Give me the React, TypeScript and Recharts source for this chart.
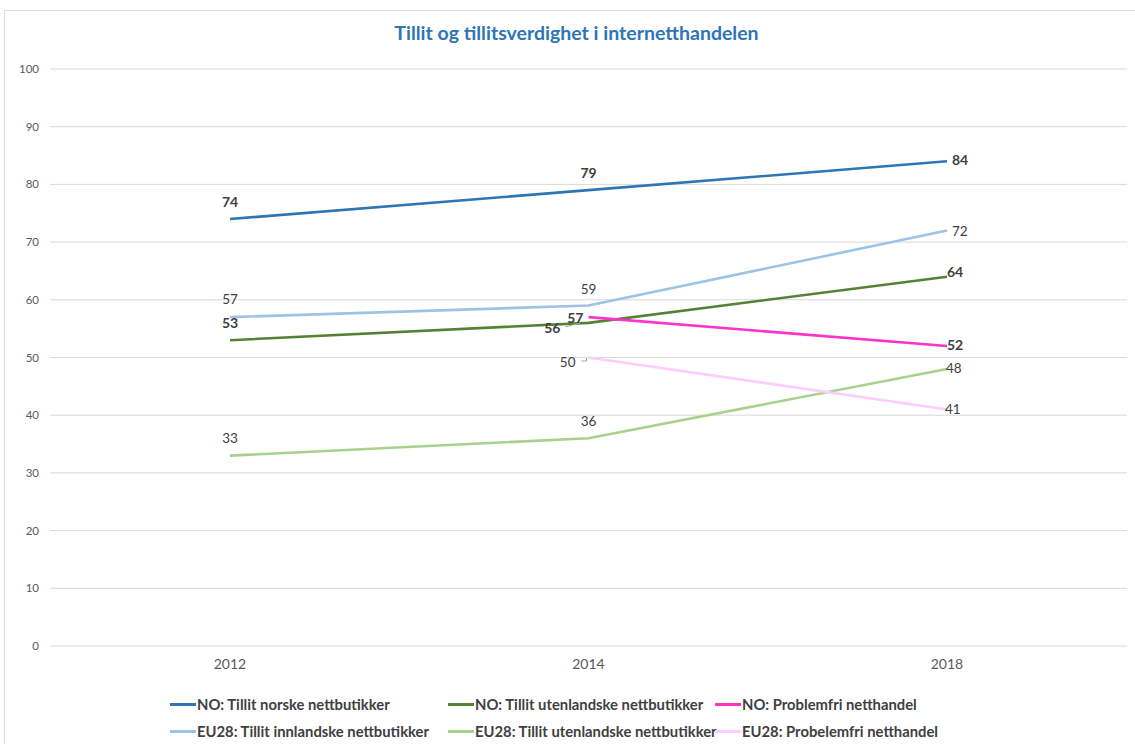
import React from 'react';
import { LineChart, Line, XAxis, YAxis, CartesianGrid, LabelList } from 'recharts';

const years = ['2012', '2014', '2018'];
const noNorske = [74, 79, 84];
const eu28Innlandske = [57, 59, 72];
const noUtenlandske = [53, 56, 64];
const noProblemfri = [null, 57, 52];
const eu28Utenlandske = [33, 36, 48];
const eu28Probelemfri = [null, 50, 41];
const yTicks = [0, 10, 20, 30, 40, 50, 60, 70, 80, 90, 100];

const seriesNames = {
  noNorske: 'NO: Tillit norske nettbutikker',
  noUtenlandske: 'NO: Tillit utenlandske nettbutikker',
  noProblemfri: 'NO: Problemfri netthandel',
  eu28Innlandske: 'EU28: Tillit innlandske nettbutikker',
  eu28Utenlandske: 'EU28: Tillit utenlandske nettbutikker',
  eu28Probelemfri: 'EU28: Probelemfri netthandel',
};

const data = years.map((year, i) => ({
  year,
  noNorske: noNorske[i],
  eu28Innlandske: eu28Innlandske[i],
  noUtenlandske: noUtenlandske[i],
  noProblemfri: noProblemfri[i],
  eu28Utenlandske: eu28Utenlandske[i],
  eu28Probelemfri: eu28Probelemfri[i],
}));

type Cfg = { dx: number; dy: number; anchor: 'start' | 'middle' | 'end'; leader?: 'diag' | 'elbow' };

const style: Record<string, { color: string; bold: boolean; labels: (Cfg | null)[] }> = {
  noNorske: {
    color: '#2E75B6', bold: true,
    labels: [
      { dx: 0, dy: -18, anchor: 'middle' },
      { dx: 0, dy: -18, anchor: 'middle' },
      { dx: 5, dy: -2, anchor: 'start' },
    ],
  },
  eu28Innlandske: {
    color: '#9DC3E6', bold: false,
    labels: [
      { dx: 0, dy: -18, anchor: 'middle' },
      { dx: 0, dy: -17, anchor: 'middle' },
      { dx: 5, dy: 0, anchor: 'start' },
    ],
  },
  noUtenlandske: {
    color: '#548235', bold: true,
    labels: [
      { dx: 0, dy: -18, anchor: 'middle' },
      { dx: -28, dy: 5, anchor: 'end', leader: 'diag' },
      { dx: 0, dy: -5, anchor: 'start' },
    ],
  },
  noProblemfri: {
    color: '#FF33CC', bold: true,
    labels: [
      null,
      { dx: -5, dy: 0, anchor: 'end' },
      { dx: 0, dy: -1, anchor: 'start' },
    ],
  },
  eu28Utenlandske: {
    color: '#A9D18E', bold: false,
    labels: [
      { dx: 0, dy: -18, anchor: 'middle' },
      { dx: 0, dy: -17, anchor: 'middle' },
      { dx: -1, dy: -1, anchor: 'start' },
    ],
  },
  eu28Probelemfri: {
    color: '#FFCCFF', bold: false,
    labels: [
      null,
      { dx: -13, dy: 4.5, anchor: 'end', leader: 'elbow' },
      { dx: -2, dy: 0, anchor: 'start' },
    ],
  },
};

const drawOrder = ['noNorske', 'eu28Innlandske', 'noUtenlandske', 'eu28Utenlandske', 'eu28Probelemfri', 'noProblemfri'];
const legendOrder = ['noNorske', 'noUtenlandske', 'noProblemfri', 'eu28Innlandske', 'eu28Utenlandske', 'eu28Probelemfri'];

const FONT = 'Lato, "Open Sans", sans-serif';

const makeLabel = (key: string) => (props: any) => {
  const { x, y, value, index } = props;
  if (value === null || value === undefined) return null;
  const cfg = style[key].labels[index];
  if (!cfg) return null;
  const bold = style[key].bold;
  const lx = x + cfg.dx;
  const ly = y + cfg.dy;
  return (
    <g>
      {cfg.leader === 'diag' && (
        <line x1={x - 23} y1={y + 4} x2={x - 8} y2={y} stroke="#A6A6A6" strokeWidth={1} />
      )}
      {cfg.leader === 'elbow' && (
        <polyline points={`${x - 7},${y + 3.5} ${x - 2},${y + 3.5} ${x - 2},${y + 0.5}`} fill="none" stroke="#A6A6A6" strokeWidth={1} />
      )}
      <text
        x={lx}
        y={ly}
        textAnchor={cfg.anchor}
        dominantBaseline="central"
        fill="#404040"
        fontSize={bold ? 14 : 13.5}
        fontWeight={bold ? 700 : 400}
        fontFamily={FONT}
      >
        {value}
      </text>
    </g>
  );
};

const legendCols = [170, 448, 715];
const legendRows = [704, 731];

export default function App() {
  return (
    <div style={{ position: 'absolute', left: 0, top: 0, width: 1135, height: 744, background: '#fff', overflow: 'hidden', fontFamily: FONT }}>
      <div style={{ position: 'absolute', left: 4, top: 10, width: 1150, height: 760, border: '1px solid #D9D9D9', boxSizing: 'border-box' }} />
      <div style={{ position: 'absolute', left: 0, top: 20, width: 1153, textAlign: 'center', color: '#2E75B6', fontWeight: 700, fontSize: 19.5, lineHeight: '26px' }}>
        Tillit og tillitsverdighet i internetthandelen
      </div>
      <div style={{ position: 'absolute', left: 0, top: 0 }}>
        <LineChart width={1135} height={744} data={data} margin={{ top: 69, right: 8, left: 0, bottom: 68 }}>
          <CartesianGrid vertical={false} stroke="#D9D9D9" strokeWidth={1} />
          <XAxis
            dataKey="year"
            type="category"
            padding={{ left: 180, right: 180 }}
            axisLine={false}
            tickLine={false}
            tickSize={0}
            tickMargin={13}
            height={30}
            tick={{ fill: '#595959', fontSize: 14, fontFamily: FONT }}
          />
          <YAxis
            type="number"
            domain={[0, 100]}
            ticks={yTicks}
            width={50}
            axisLine={false}
            tickLine={false}
            tickSize={0}
            tickMargin={11}
            tick={{ fill: '#595959', fontSize: 11.5, fontFamily: FONT }}
          />
          {drawOrder.map((key) => (
            <Line
              key={key}
              type="linear"
              dataKey={key}
              name={seriesNames[key as keyof typeof seriesNames]}
              stroke={style[key].color}
              strokeWidth={2.6}
              dot={false}
              activeDot={false}
              connectNulls={false}
              isAnimationActive={false}
            >
              <LabelList dataKey={key} content={makeLabel(key)} />
            </Line>
          ))}
        </LineChart>
      </div>
      {legendOrder.map((key, i) => {
        const left = legendCols[i % 3];
        const top = legendRows[Math.floor(i / 3)];
        return (
          <div key={key} style={{ position: 'absolute', left, top: top - 10, height: 20, display: 'flex', alignItems: 'center', whiteSpace: 'nowrap' }}>
            <span style={{ display: 'inline-block', width: 26, height: 3, background: style[key].color, marginRight: 1 }} />
            <span style={{ fontSize: 14.8, fontWeight: 700, color: '#404040' }}>{seriesNames[key as keyof typeof seriesNames]}</span>
          </div>
        );
      })}
    </div>
  );
}
